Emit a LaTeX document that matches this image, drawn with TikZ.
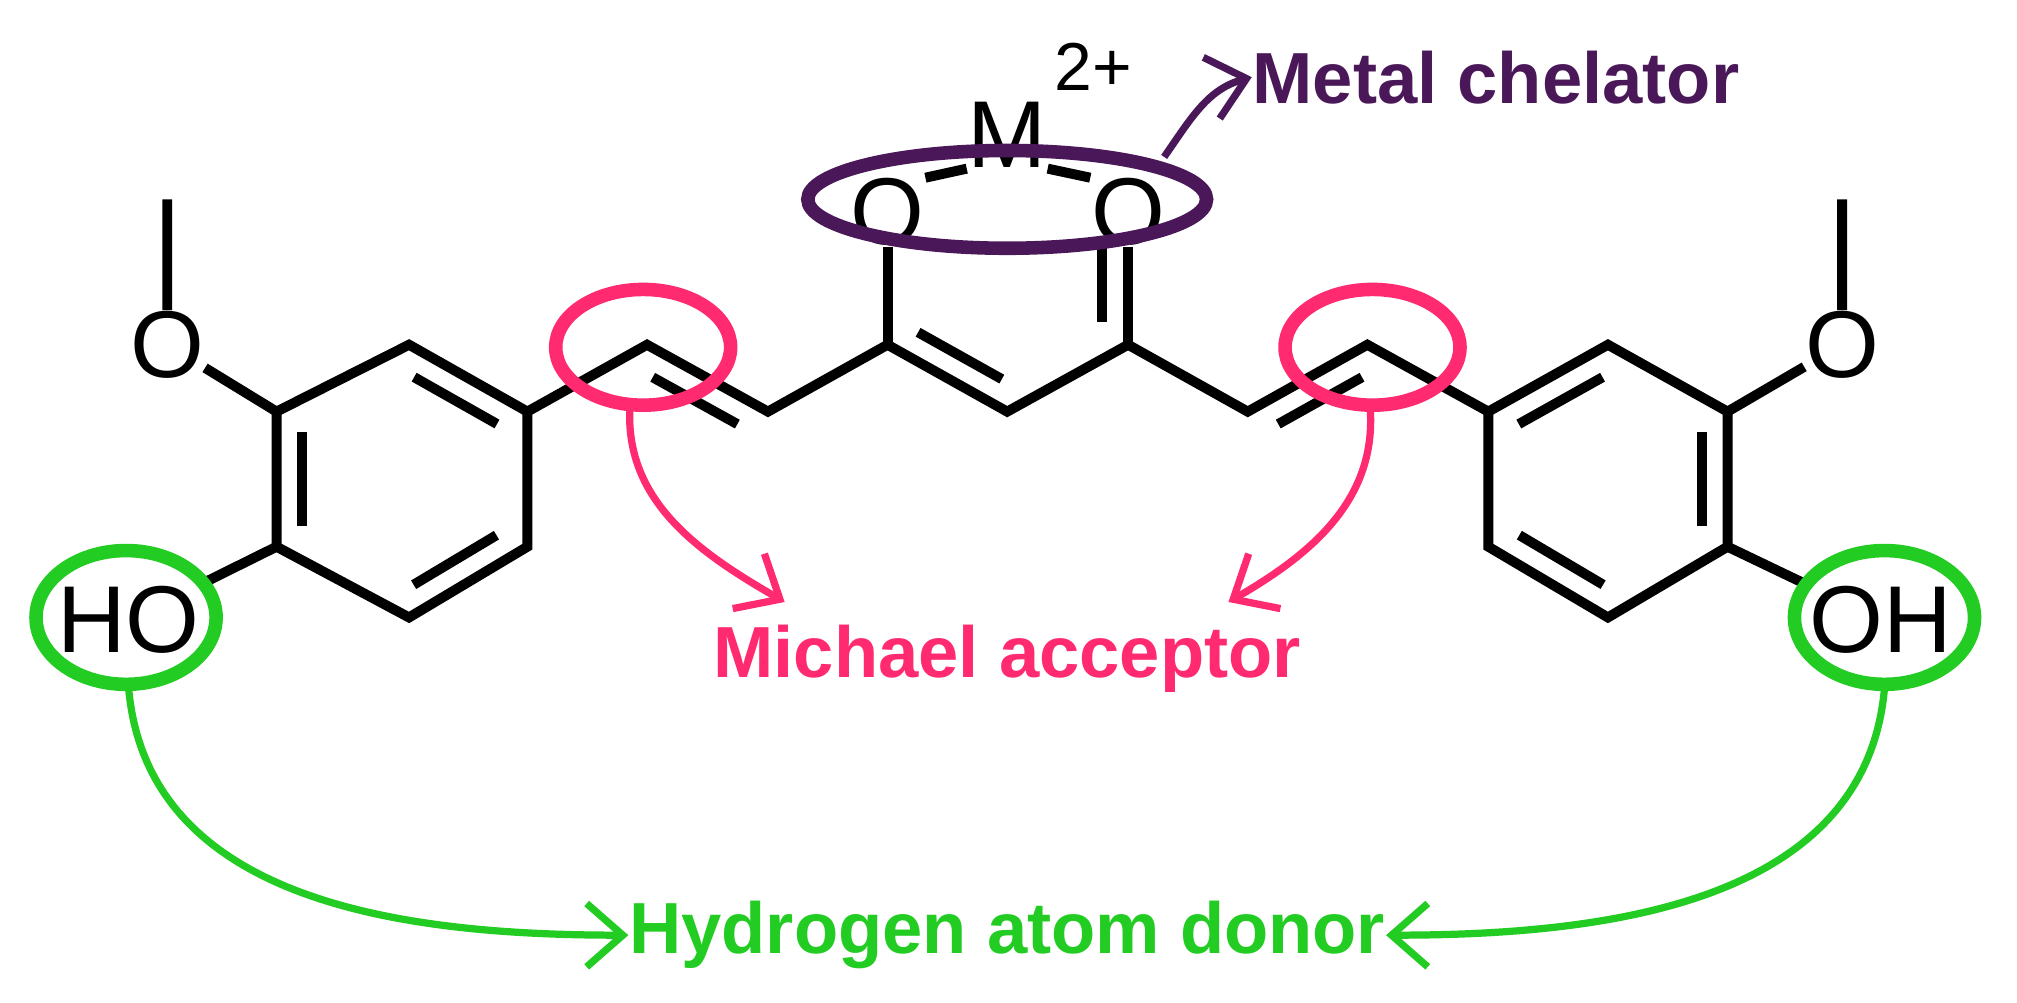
\documentclass[tikz,border=0pt]{standalone}
\usepackage{fontspec}
\setmainfont{Liberation Sans}
\usetikzlibrary{calc,arrows.meta}
\definecolor{purp}{HTML}{4A1858}
\definecolor{pinkc}{HTML}{FF2A70}
\definecolor{grn}{HTML}{22CC22}
\tikzset{bond/.style={line width=2.2pt,black},
 atom/.style={inner sep=0pt,font=\fontsize{21}{21}\selectfont},
 lab/.style={inner sep=0pt,font=\fontsize{16}{16}\selectfont\bfseries},
 ring/.style={line width=3pt},
 arr/.style={line width=1.6pt,-{Straight Barb[length=8pt,width=14pt]}}}
\newcommand{\dbl}[3]{\draw[bond] ($(#1)!.15!(#2)!0.2cm!#3:(#2)$) -- ($(#2)!.15!(#1)!0.2cm!-#3:(#1)$);}
\begin{document}
\begin{tikzpicture}[x=0.01cm,y=-0.01cm]
\useasboundingbox (0,0) rectangle (1568,779);
\coordinate (L1) at (318,268); \coordinate (L2) at (410,320); \coordinate (L3) at (410,425);
\coordinate (L4) at (318,480); \coordinate (L5) at (215,425); \coordinate (L6) at (215,320);
\coordinate (R1) at (1250,268); \coordinate (R2) at (1343,320); \coordinate (R3) at (1343,425);
\coordinate (R4) at (1250,480); \coordinate (R5) at (1157,425); \coordinate (R6) at (1157,320);
\coordinate (C1) at (503,268); \coordinate (C2) at (597,320); \coordinate (C3) at (690,268);
\coordinate (C4) at (783,320); \coordinate (C5) at (877,268); \coordinate (C6) at (970,320);
\coordinate (C7) at (1063,268);
\node[atom] (OL) at (130,268) {O};
\node[atom] (OR) at (1432,268) {O};
\node[atom] (HO) at (100,482) {HO};
\node[atom] (OH) at (1462,482) {OH};
\node[atom] (O1) at (690,165) {O};
\node[atom] (O2) at (877,165) {O};
\node[atom] (M) at (783,105) {M};
\node[inner sep=0pt,font=\fontsize{15}{15}\selectfont] (ch) at (850,52) {2+};
\coordinate (ML) at (130,155); \coordinate (MR) at (1432,155);
\draw[bond] (L1)--(L2)--(L3)--(L4)--(L5)--(L6)--cycle;
\draw[bond] (R1)--(R2)--(R3)--(R4)--(R5)--(R6)--cycle;
\dbl{L6}{L5}{90} \dbl{L1}{L2}{-90} \dbl{L3}{L4}{-90}
\dbl{R2}{R3}{-90} \dbl{R6}{R1}{-90} \dbl{R5}{R4}{90}
\draw[bond] (L2)--(C1)--(C2)--(C3)--(C4)--(C5)--(C6)--(C7)--(R6);
\dbl{C1}{C2}{-90} \dbl{C3}{C4}{90} \dbl{C6}{C7}{-90}
\draw[bond] (L6)--(OL) (OL)--(ML) (L5)--(HO);
\draw[bond] (R2)--(OR) (OR)--(MR) (R3)--(OH);
\draw[bond] (C3)--(O1);
\draw[bond] (C5)--(O2);
\draw[bond] ($(C5)+(-20,-18)$)--($(O2.south)+(-20,0)$);
\draw[bond] (O1.north east)--(M.south west) (M.south east)--(O2.north west);
\draw[purp,ring] (783,155) ellipse (155 and 38);
\draw[pinkc,ring] (500,270) ellipse (68 and 45);
\draw[pinkc,ring] (1067,270) ellipse (68 and 45);
\draw[grn,ring] (98,480) ellipse (70 and 52);
\draw[grn,ring] (1465,480) ellipse (70 and 52);
\node[lab,text=purp] (mc) at (1163,60) {Metal chelator};
\node[lab,text=pinkc] (ma) at (783,512) {Michael acceptor};
\node[lab,text=grn] (hd) at (783,727) {Hydrogen atom donor};
\coordinate (pa) at (905,122); \coordinate (p1) at (490,312); \coordinate (p2) at (1065,315);
\coordinate (g1) at (100,535); \coordinate (g2) at (1465,535);
\draw[arr,purp] (pa) to[out=55,in=195] (mc.west);
\draw[arr,pinkc] (p1) to[out=-95,in=150] (610,468);
\draw[arr,pinkc] (p2) to[out=-85,in=30] (955,468);
\draw[arr,grn] (g1) to[out=-85,in=180] (hd.west);
\draw[arr,grn] (g2) to[out=-95,in=0] (hd.east);
\end{tikzpicture}
\end{document}
